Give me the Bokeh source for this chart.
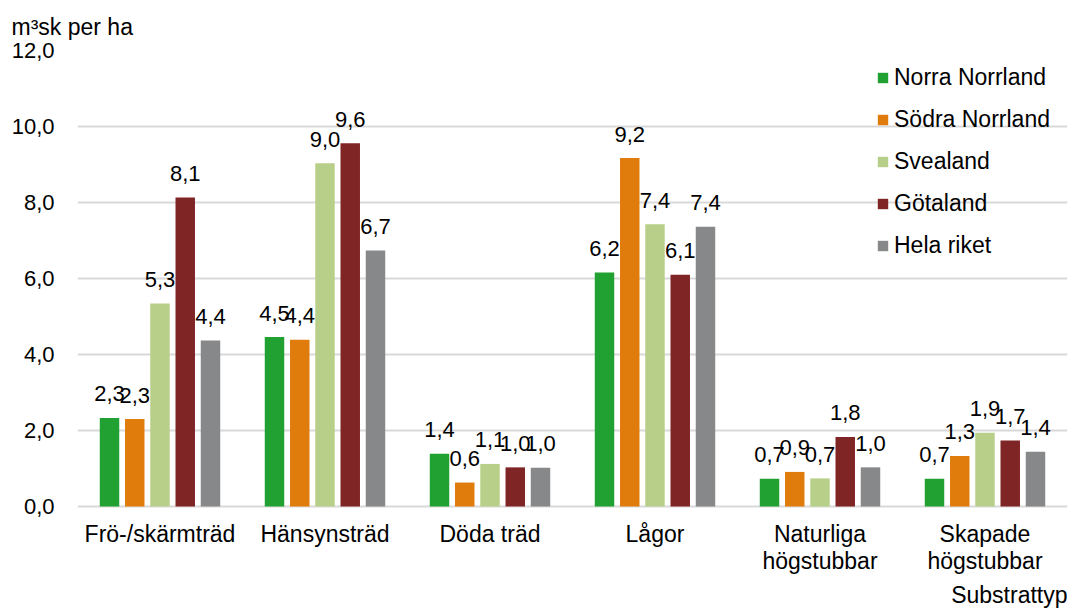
from bokeh.plotting import figure
from bokeh.models import (FactorRange, Range1d, ColumnDataSource, FixedTicker, Label, LabelSet)
from bokeh.transform import dodge
from bokeh.core.properties import value
from bokeh.embed import file_html
from bokeh.resources import INLINE

categories = ["Frö-/skärmträd", "Hänsynsträd", "Döda träd", "Lågor",
              "Naturliga högstubbar", "Skapade högstubbar"]
category_line1 = ["Frö-/skärmträd", "Hänsynsträd", "Döda träd", "Lågor", "Naturliga", "Skapade"]
category_line2 = ["", "", "", "", "högstubbar", "högstubbar"]
series_names = ["Norra Norrland", "Södra Norrland", "Svealand", "Götaland", "Hela riket"]
norra_norrland = [2.33, 4.46, 1.39, 6.16, 0.73, 0.73]
sodra_norrland = [2.30, 4.39, 0.63, 9.17, 0.91, 1.33]
svealand = [5.34, 9.03, 1.12, 7.43, 0.74, 1.94]
gotaland = [8.13, 9.56, 1.03, 6.10, 1.83, 1.74]
hela_riket = [4.37, 6.74, 1.02, 7.36, 1.03, 1.44]
y_ticks = [0, 2, 4, 6, 8, 10, 12]

series_values = [norra_norrland, sodra_norrland, svealand, gotaland, hela_riket]
colors = ["#21a131", "#e07c0b", "#b8cf89", "#802526", "#87888a"]
offsets = [-0.306, -0.153, 0.0, 0.153, 0.306]

FONT = "Liberation Sans"
W, H = 1075, 612
TOP = 50            # frame top (px)
PLOT_H = 456        # px from value 0 to value 12
px_per_unit = PLOT_H / 12.0
y_start = -(H - TOP - PLOT_H) / px_per_unit   # frame extends below zero for the category texts

p = figure(width=W, height=H, x_range=FactorRange(*categories, range_padding=0),
           y_range=Range1d(y_start, 12), output_backend="svg", toolbar_location=None,
           x_axis_location=None,
           min_border_left=77, min_border_right=8, min_border_top=TOP, min_border_bottom=0)
p.outline_line_color = None
p.background_fill_color = "white"

fmt = lambda v: f"{v:.1f}".replace(".", ",")

for name, vals, col, off in zip(series_names, series_values, colors, offsets):
    src = ColumnDataSource(dict(cat=categories, val=vals, lab=[fmt(v) for v in vals]))
    p.vbar(x=dodge("cat", off, range=p.x_range), top="val", bottom=0, width=0.118, source=src,
           fill_color=col, line_color=None, legend_label=name)
    p.text(x=dodge("cat", off, range=p.x_range), y="val", text="lab", source=src,
           text_align="center", text_baseline="alphabetic", y_offset=-24,
           text_font_size="22px", text_color="#000000", text_font=value(FONT))

# y axis + grid (the zero grid line doubles as the category axis line)
p.xgrid.grid_line_color = None
p.ygrid.ticker = FixedTicker(ticks=y_ticks)
p.ygrid.grid_line_color = "#d9d9d9"
p.ygrid.grid_line_width = 2

p.yaxis.ticker = FixedTicker(ticks=y_ticks)
p.yaxis.major_label_overrides = {t: fmt(t) for t in y_ticks}
p.yaxis.axis_line_color = None
p.yaxis.major_tick_line_color = None
p.yaxis.minor_tick_line_color = None
p.yaxis.major_tick_out = 0
p.yaxis.major_label_standoff = 23
p.yaxis.major_label_text_font_size = "22px"
p.yaxis.major_label_text_font = FONT
p.yaxis.major_label_text_color = "#000000"

# category labels (two lines) below the zero line, placed on the categorical scale
cat_src = ColumnDataSource(dict(cat=categories, l1=category_line1, l2=category_line2))
for field, baseline_px in (("l1", 541), ("l2", 568)):
    p.add_layout(LabelSet(x="cat", y=H - baseline_px, y_units="screen", text=field,
                          source=cat_src, text_align="center", text_baseline="alphabetic",
                          text_font_size="23px", text_font=value(FONT), text_color="#000000"))

p.add_layout(Label(x=990, y=H - 594, x_units="screen", y_units="screen", text="Substrattyp",
                   text_font_size="23px", text_font=FONT, text_color="#000000",
                   text_baseline="alphabetic", text_align="right"))

# value-axis title
p.title.text = "m³sk per ha"
p.title.align = "left"
p.title.offset = -66
p.title.standoff = 21
p.title.text_font = FONT
p.title.text_font_size = "23px"
p.title.text_font_style = "normal"
p.title.text_color = "#000000"

# legend
lg = p.legend[0]
lg.location = (799, H - 259)
lg.orientation = "vertical"
lg.glyph_width = 13
lg.glyph_height = 13
lg.label_standoff = 5
lg.label_height = 25
lg.spacing = 15
lg.padding = 0
lg.margin = 0
lg.border_line_color = None
lg.background_fill_alpha = 0
lg.label_text_font_size = "23px"
lg.label_text_font = FONT
lg.label_text_color = "#000000"

open("out.html", "w").write(file_html(p, INLINE))
